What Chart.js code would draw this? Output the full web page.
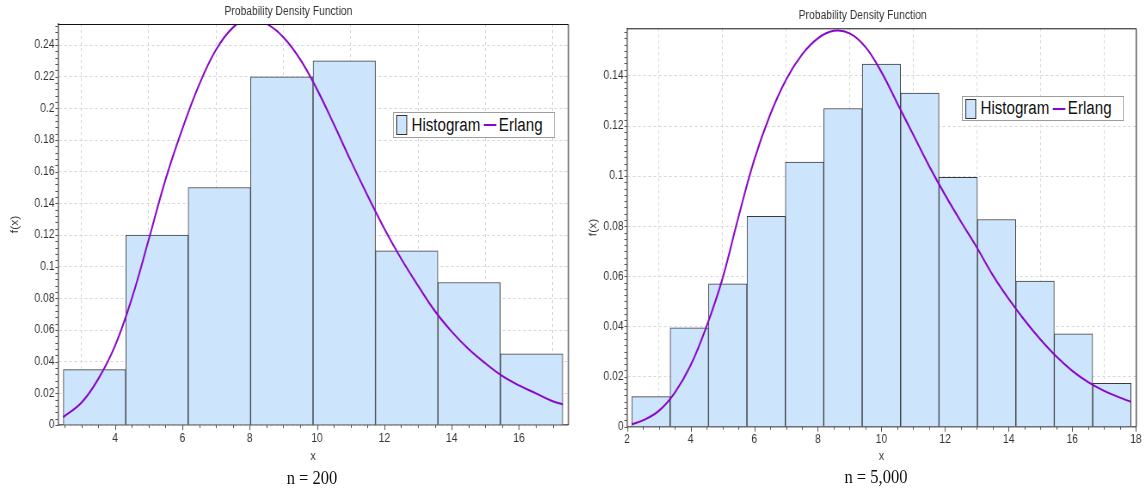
<!DOCTYPE html>
<html><head><meta charset="utf-8">
<script src="https://cdn.jsdelivr.net/npm/chart.js@4"></script>
<style>
html,body{margin:0;padding:0;background:#fff;width:1147px;height:491px;overflow:hidden;position:relative}
.wrap{position:absolute;top:0;height:470px;transform:scaleX(0.86);transform-origin:0 0}
#w1{left:0;width:670px}
#w2{left:568px;width:673px}
.cap{position:absolute;font-family:'Liberation Serif','Times New Roman',serif;font-size:19px;color:#111;transform:translate(-50%,-50%) scaleX(0.87);white-space:nowrap}
.legend{position:absolute;border:1px solid #9c9c9c;background:#fff;font-family:'Liberation Sans',Arial,sans-serif;font-size:18px;color:#111;display:flex;align-items:center;box-sizing:border-box;padding-left:3px;white-space:nowrap;transform:scaleX(0.84);transform-origin:0 0;width:193px}
.sw{display:inline-block;width:13px;height:20px;box-sizing:border-box;border:1px solid #333;margin-right:5px}
.ln{display:inline-block;width:15px;height:2px;margin:0 3px 0 4px}
</style>
</head><body>
<div class="wrap" id="w1"><canvas id="c1"></canvas></div>
<div class="wrap" id="w2"><canvas id="c2"></canvas></div>
<div class="cap" style="left:312px;top:478px">n = 200</div>
<div class="cap" style="left:876px;top:477px">n = 5,000</div>
<div class="legend" id="lg1" style="left:393px;top:112px;height:26px"></div>
<div class="legend" id="lg2" style="left:962px;top:96px;height:25px"></div>
<script>
// ---- data (n = 200) ----
const leftBinCenters = [3.391, 5.246, 7.100, 8.955, 10.809, 12.664, 14.518, 16.373];
const leftBinValues  = [0.035, 0.12, 0.15, 0.22, 0.23, 0.11, 0.09, 0.045];
const leftCurveX = [2.46, 3.0, 3.5, 4.0, 4.5, 5.0, 5.5, 6.0, 6.5, 7.0, 7.5, 8.0, 8.5, 9.0, 9.5, 10.0, 10.5, 11.0, 11.5, 12.0, 12.5, 13.0, 13.5, 14.0, 14.5, 15.0, 15.5, 16.0, 16.5, 17.0, 17.3];
const leftCurveY = [0.005, 0.014, 0.029, 0.05, 0.08, 0.117, 0.155, 0.187, 0.215, 0.237, 0.251, 0.257, 0.2535, 0.245, 0.231, 0.212, 0.19, 0.167, 0.145, 0.124, 0.105, 0.088, 0.072, 0.059, 0.048, 0.039, 0.031, 0.025, 0.02, 0.015, 0.013];
// ---- data (n = 5,000) ----
const rightBinCenters = [2.751, 3.959, 5.167, 6.375, 7.582, 8.790, 9.998, 11.206, 12.414, 13.622, 14.830, 16.037, 17.245];
const rightBinValues  = [0.012, 0.0395, 0.057, 0.084, 0.1056, 0.127, 0.1447, 0.1331, 0.0995, 0.0827, 0.0581, 0.0371, 0.0173];
const rightCurveX = [2.147, 2.5, 3.0, 3.5, 4.0, 4.5, 5.0, 5.5, 6.0, 6.5, 7.0, 7.5, 8.0, 8.5, 9.0, 9.5, 10.0, 10.5, 11.0, 11.5, 12.0, 12.5, 13.0, 13.5, 14.0, 14.5, 15.0, 15.5, 16.0, 16.5, 17.0, 17.5, 17.85];
const rightCurveY = [0.001, 0.0025, 0.0063, 0.0135, 0.0245, 0.04, 0.059, 0.0835, 0.1065, 0.1245, 0.1385, 0.1485, 0.155, 0.158, 0.157, 0.1515, 0.1415, 0.129, 0.1165, 0.104, 0.0925, 0.0818, 0.0715, 0.0605, 0.051, 0.0425, 0.0348, 0.028, 0.0223, 0.0178, 0.0143, 0.0116, 0.0099];
const titleText = 'Probability Density Function';
const seriesLabels = ['Histogram', 'Erlang'];

const FONT = "'Liberation Sans',Arial,sans-serif";
const BAR_FILL = '#cce5fd', BAR_EDGE = '#3a3a3a', PURPLE = '#8a06c8';

const framePlugin = {
  id: 'frame',
  afterDraw(chart, args, o) {
    const {ctx, chartArea: a, scales: {x, y}} = chart;
    ctx.save();
    ctx.strokeStyle = '#555';
    ctx.lineWidth = 1;
    for (let v = Math.ceil(x.min / 0.5) * 0.5; v <= x.max + 1e-9; v += 0.5) {
      const px = Math.round(x.getPixelForValue(v)) + 0.5;
      const len = Math.abs(v % 2) < 1e-9 ? 5 : 3;
      ctx.beginPath(); ctx.moveTo(px, a.bottom); ctx.lineTo(px, a.bottom + len); ctx.stroke();
    }
    for (let v = 0; v <= y.max + 1e-9; v += o.yMinor) {
      const py = Math.round(y.getPixelForValue(v)) + 0.5;
      ctx.beginPath(); ctx.moveTo(a.left - 3, py); ctx.lineTo(a.left, py); ctx.stroke();
    }
    ctx.strokeStyle = '#111';
    ctx.beginPath();
    ctx.moveTo(a.left, a.top + 0.5); ctx.lineTo(a.right + 0.5, a.top + 0.5); ctx.lineTo(a.right + 0.5, a.bottom);
    ctx.stroke();
    ctx.restore();
  }
};

const fmt = v => String(+Number(v).toFixed(4));

function makeChart(id, cfg) {
  const lineData = cfg.cx.map((v, i) => ({x: v, y: cfg.cy[i]}));
  const barData = cfg.bx.map((v, i) => ({x: v, y: cfg.by[i]}));
  return new Chart(document.getElementById(id), {
    type: 'bar',
    data: {
      datasets: [
        {type: 'bar', label: seriesLabels[0], data: barData, backgroundColor: BAR_FILL, borderColor: BAR_EDGE,
         borderWidth: 1, barPercentage: 1, categoryPercentage: 1, order: 2},
        {type: 'line', label: seriesLabels[1], data: lineData, borderColor: PURPLE, borderWidth: 2,
         pointRadius: 0, tension: 0.4, fill: false, order: 1}
      ]
    },
    plugins: [framePlugin],
    options: {
      responsive: true, maintainAspectRatio: false, animation: false,
      layout: {padding: cfg.pad},
      plugins: {
        legend: {display: false}, tooltip: {enabled: false},
        title: {display: true, text: titleText, color: '#333', font: {family: FONT, size: 12, weight: 'normal'},
                padding: cfg.titlePad},
        frame: {yMinor: cfg.yMinor}
      },
      scales: {
        x: {
          type: 'linear', min: cfg.xmin, max: cfg.xmax, offset: false,
          afterFit: s => { s.height = cfg.xh; },
          ticks: {stepSize: 2, includeBounds: false, color: '#333', font: {family: FONT, size: 12}, padding: 6, maxRotation: 0, callback: fmt},
          grid: {color: '#d6d6d6', drawTicks: false},
          border: {color: '#666', width: 1.5, dash: [3, 3]},
          title: {display: true, text: 'x', color: '#333', font: {family: FONT, size: 12}, padding: {top: 0, bottom: 0}}
        },
        y: {
          min: 0, max: cfg.ymax,
          afterFit: s => { s.width = cfg.yw; },
          ticks: {stepSize: 0.02, includeBounds: false, color: '#333', font: {family: FONT, size: 12}, padding: 4, callback: fmt},
          grid: {color: '#d6d6d6', drawTicks: false},
          border: {color: '#666', width: 1.5, dash: [3, 3]},
          title: {display: true, text: 'f(x)', color: '#333', font: {family: FONT, size: 12}, padding: {top: 0, bottom: 0}}
        }
      }
    }
  });
}

const ch1 = makeChart('c1', {bx: leftBinCenters, by: leftBinValues, cx: leftCurveX, cy: leftCurveY,
  xmin: 2.306, xmax: 17.456, ymax: 0.2533, yMinor: 0.004, xh: 39, yw: 57.2,
  pad: {left: 10.2, right: 9.5, top: 0, bottom: 6}, titlePad: {top: 4, bottom: 5.6}});
const ch2 = makeChart('c2', {bx: rightBinCenters, by: rightBinValues, cx: rightCurveX, cy: rightCurveY,
  xmin: 2, xmax: 18, ymax: 0.159, yMinor: 0.0025, xh: 37.3, yw: 46.4,
  pad: {left: 22.2, right: 9.9, top: 0, bottom: 6}, titlePad: {top: 8, bottom: 5.9}});

function buildLegend(chart, el) {
  const ds = chart.data.datasets;
  el.innerHTML = '';
  const sw = document.createElement('span'); sw.className = 'sw'; sw.style.background = ds[0].backgroundColor;
  el.appendChild(sw);
  el.appendChild(document.createTextNode(ds[0].label));
  const ln = document.createElement('span'); ln.className = 'ln'; ln.style.background = ds[1].borderColor;
  el.appendChild(ln);
  el.appendChild(document.createTextNode(ds[1].label));
}
buildLegend(ch1, document.getElementById('lg1'));
buildLegend(ch2, document.getElementById('lg2'));
</script>
</body></html>
